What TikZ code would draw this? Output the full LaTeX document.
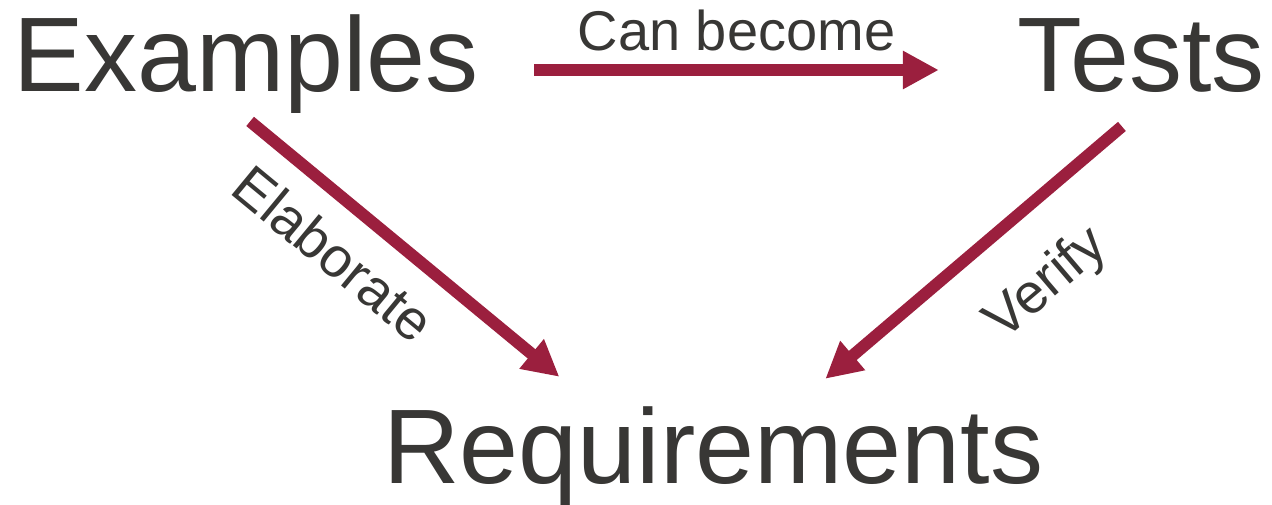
\documentclass[tikz,border=0pt]{standalone}
\usepackage{xcolor}
\usepackage{fontspec}
\usepackage{tikz}
\usetikzlibrary{arrows.meta}
\setmainfont{Liberation Sans}
\definecolor{wordgray}{HTML}{383735}
\definecolor{flowred}{HTML}{9B1F3E}

\begin{document}
\begin{tikzpicture}[x=0.5pt,y=-0.5pt,
  bigword/.style={inner sep=0pt,text=wordgray,font=\fontsize{53pt}{60pt}\selectfont},
  flowlabel/.style={inner xsep=0pt,text=wordgray,font=\fontsize{28pt}{32pt}\selectfont},
  flow/.style={draw=flowred,line width=6pt,-{Triangle[length=18pt,width=18pt]}}]
\useasboundingbox (0,0) rectangle (1272,504);
\node[bigword,anchor=base west] (ex) at (13,91) {Examples};
\node[bigword,anchor=base east] (tests) at (1265,91) {Tests};
\node[bigword,anchor=base west] (req) at (383,483) {Requirements};
\draw[flow] ([shift={(55,-21)}]ex.base east) -- node[flowlabel,anchor=south,inner ysep=6.5pt] (canlbl) {Can become} ([shift={(-78,-21)}]tests.base west);
\draw[flow] ([shift={(4,8)}]ex.south) -- node[flowlabel,sloped,anchor=north,inner ysep=11pt,pos=0.37] (elablbl) {Elaborate} ([shift={(-154,-29)}]req.north);
\draw[flow] ([shift={(-19,34)}]tests.south) -- node[flowlabel,sloped,anchor=north,inner ysep=20pt,pos=0.41] (verlbl) {Verify} ([shift={(112,-27)}]req.north);
\end{tikzpicture}
\end{document}
